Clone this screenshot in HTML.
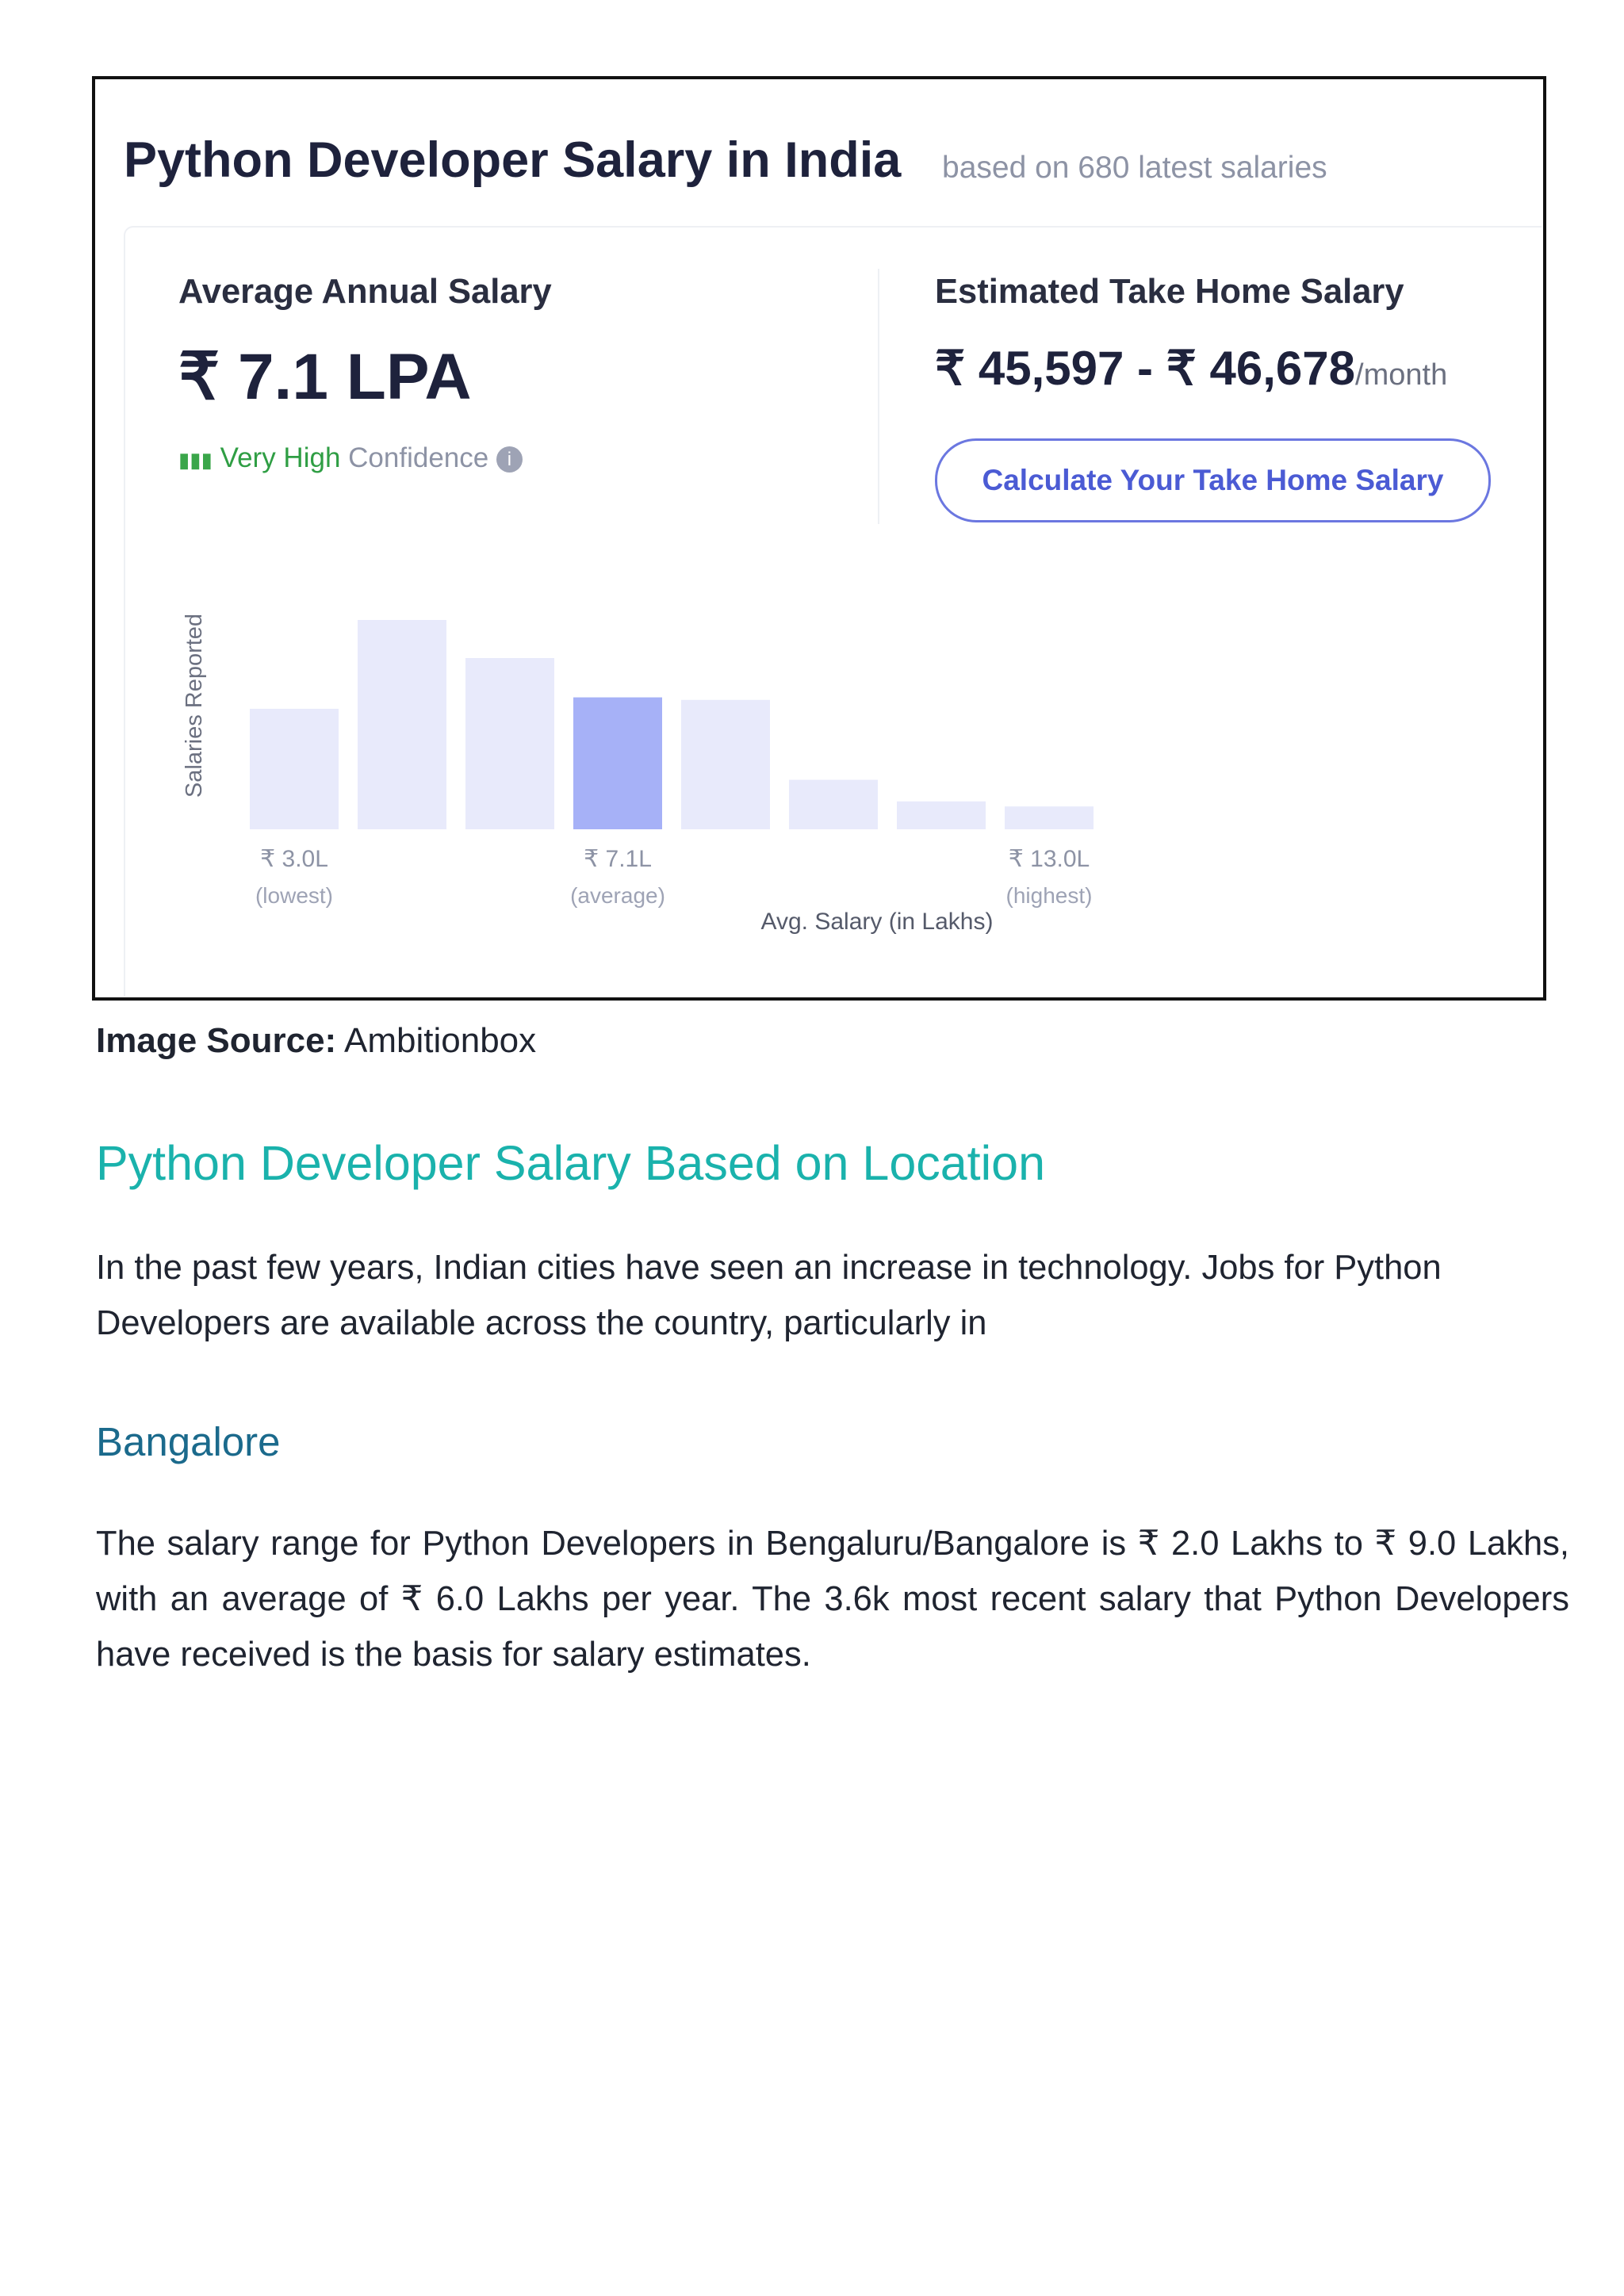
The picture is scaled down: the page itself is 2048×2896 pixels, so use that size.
<!DOCTYPE html>
<html><head><meta charset="utf-8">
<style>
body{margin:0;width:2048px;height:2896px;background:#fff;position:relative;font-family:"Liberation Sans",sans-serif;overflow:hidden}
.a{position:absolute;white-space:nowrap}
#frame{position:absolute;left:116px;top:96px;width:1826px;height:1158px;border:4px solid #111;background:#fff}
.p{font-size:43.5px;color:#1f2430;line-height:70px}
</style></head><body>
<div id="frame"></div>
<div class="a" style="left:156px;top:285px;width:1786px;height:970px;border-top:2px solid #eef0f4;border-left:2px solid #eef0f4;border-radius:12px 0 0 0"></div>
<div class="a" style="left:156px;top:166px;font-size:63px;font-weight:bold;color:#1e223c">Python Developer Salary in India</div>
<div class="a" style="left:1188px;top:190px;font-size:39px;color:#8d93a5">based on 680 latest salaries</div>
<div class="a" style="left:225px;top:344px;font-size:43.5px;font-weight:bold;color:#2a2e40">Average Annual Salary</div>
<div class="a" style="left:225px;top:428px;font-size:82px;font-weight:bold;color:#1e223c">₹ 7.1 LPA</div>
<div class="a" style="left:225px;top:558px;font-size:35px;color:#8d93a5"><span style="color:#3aa64a;font-size:26px">▮▮▮</span> <span style="color:#2f9e44">Very High</span> Confidence <span style="display:inline-block;width:33px;height:33px;border-radius:50%;background:#9ea3b5;color:#fff;font-size:24px;text-align:center;line-height:33px;vertical-align:middle">i</span></div>
<div class="a" style="left:1107px;top:339px;width:2px;height:322px;background:#eef0f4"></div>
<div class="a" style="left:1179px;top:344px;font-size:43.5px;font-weight:bold;color:#2a2e40">Estimated Take Home Salary</div>
<div class="a" style="left:1179px;top:430px;font-size:60px;font-weight:bold;color:#1e223c">₹ 45,597 - ₹ 46,678<span style="font-size:38px;font-weight:normal;color:#6b7080">/month</span></div>
<div class="a" style="left:1179px;top:553px;width:695px;height:100px;border:3px solid #6b77e0;border-radius:52px;text-align:center;line-height:100px;font-size:37px;font-weight:bold;color:#4b5bd4">Calculate Your Take Home Salary</div>
<svg class="a" style="left:0;top:700px" width="1500" height="520" id="chart"></svg>
<div class="a" style="left:121px;top:1288px;font-size:44px;color:#1f2430"><b>Image Source:</b> Ambitionbox</div>
<div class="a" style="left:121px;top:1432px;font-size:61px;color:#1ab2ac">Python Developer Salary Based on Location</div>
<div class="a p" style="left:121px;top:1564px;white-space:normal;width:1800px">In the past few years, Indian cities have seen an increase in technology. Jobs for Python<br>Developers are available across the country, particularly in</div>
<div class="a" style="left:121px;top:1789px;font-size:51px;color:#1b6a8c">Bangalore</div>
<div class="a p" style="left:121px;top:1912px;white-space:normal;width:1858px;text-align:justify">The salary range for Python Developers in Bengaluru/Bangalore is ₹ 2.0 Lakhs to ₹ 9.0 Lakhs, with an average of ₹ 6.0 Lakhs per year. The 3.6k most recent salary that Python Developers have received is the basis for salary estimates.</div>
<script>
const categories=["b1","b2","b3","b4","b5","b6","b7","b8"];
const counts=[95,165,135,104,102,39,22,18];
const highlightIndex=[3];
const tickLabels=["₹ 3.0L","₹ 7.1L","₹ 13.0L"];
const tickSubs=["(lowest)","(average)","(highest)"];
const tickIndex=[0,3,7];
const svg=document.getElementById('chart');
const NS='http://www.w3.org/2000/svg';
const base=346, x0=315, step=136, bw=112, maxV=165, plotH=264;
const xs=i=>x0+i*step;
const ys=v=>base-v/maxV*plotH;
counts.forEach((v,i)=>{const r=document.createElementNS(NS,'rect');
r.setAttribute('x',xs(i));r.setAttribute('y',ys(v));r.setAttribute('width',bw);r.setAttribute('height',base-ys(v));
r.setAttribute('fill',highlightIndex.includes(i)?'#a6b1f7':'#e8eafb');


svg.appendChild(r);});
function txt(x,y,s,fs,fill,anchor,rot){const t=document.createElementNS(NS,'text');t.setAttribute('x',x);t.setAttribute('y',y);t.setAttribute('font-size',fs);t.setAttribute('fill',fill);t.setAttribute('text-anchor',anchor||'start');t.setAttribute('font-family','Liberation Sans, sans-serif');if(rot)t.setAttribute('transform',rot);t.textContent=s;svg.appendChild(t);return t;}
tickIndex.forEach((ci,k)=>{
const cx=xs(ci)+bw/2;
const a=txt(cx,393,tickLabels[k],30,'#8d93a5','middle');


const b=txt(cx,439,tickSubs[k],28,'#9ea3b5','middle');

});
const xt=txt(1106,472,'Avg. Salary (in Lakhs)',30,'#555a6a','middle');


const yt=txt(0,0,'Salaries Reported',29,'#6b7080','middle','translate(254,190) rotate(-90)');


</script>
</body></html>
